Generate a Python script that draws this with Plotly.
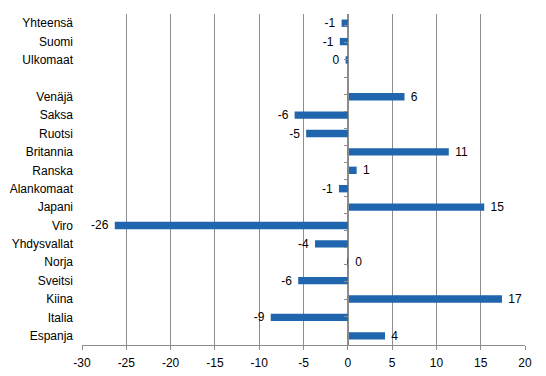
import plotly.graph_objects as go

categories = ["Yhteensä", "Suomi", "Ulkomaat", " ", "Venäjä", "Saksa", "Ruotsi",
              "Britannia", "Ranska", "Alankomaat", "Japani", "Viro", "Yhdysvallat",
              "Norja", "Sveitsi", "Kiina", "Italia", "Espanja"]
values = [-0.7, -0.9, -0.25, None, 6.4, -6.0, -4.7, 11.4, 1.0, -1.0, 15.4, -26.3,
          -3.7, 0.05, -5.6, 17.4, -8.7, 4.2]
x_ticks = [-30, -25, -20, -15, -10, -5, 0, 5, 10, 15, 20]

def label(v):
    if v is None:
        return ""
    r = int(round(v))
    return f"{r} " if v < 0 else f" {r}"

texts = [label(v) for v in values]

FONT = "Arial, Liberation Sans, sans-serif"
GRID = "#8c8c8c"

fig = go.Figure()
fig.add_trace(go.Bar(
    y=categories, x=values, orientation="h",
    marker=dict(color="#1f66ae", line=dict(width=0)),
    text=texts, textposition="outside", cliponaxis=False, constraintext="none",
    textfont=dict(family=FONT, size=12, color="#000000"),
    width=0.4, hoverinfo="skip", showlegend=False,
))
# invisible trace to drive the zero-position axis with boundary ticks
fig.add_trace(go.Scatter(
    y=categories, x=[None] * len(categories), yaxis="y2",
    mode="markers", showlegend=False, hoverinfo="skip",
))

fig.update_layout(
    width=546, height=376,
    margin=dict(l=82, r=21, t=14, b=31, autoexpand=False),
    paper_bgcolor="white", plot_bgcolor="white",
    font=dict(family=FONT, size=12, color="#000000"),
    xaxis=dict(
        range=[-30, 20], tickvals=x_ticks, ticktext=[str(t) for t in x_ticks],
        showgrid=True, gridcolor=GRID, gridwidth=1,
        zeroline=False, showline=True, linecolor=GRID, linewidth=1,
        ticks="outside", ticklen=4, tickcolor=GRID, automargin=False,
        ticklabelstandoff=3,
        tickfont=dict(family=FONT, size=12, color="#000000"),
        fixedrange=True,
    ),
    yaxis=dict(
        type="category", categoryorder="array", categoryarray=categories,
        autorange="reversed", showgrid=False, zeroline=False, showline=False,
        ticks="", ticklabelstandoff=8, automargin=False,
        tickfont=dict(family=FONT, size=12, color="#000000"),
        fixedrange=True,
    ),
    yaxis2=dict(
        type="category", categoryorder="array", categoryarray=categories,
        autorange="reversed", overlaying="y", anchor="free",
        position=30 / 50, side="left", automargin=False,
        showgrid=False, zeroline=False, showline=True, linecolor=GRID, linewidth=1,
        showticklabels=False, ticks="outside", ticklen=4, tickcolor=GRID,
        tickson="boundaries", fixedrange=True,
    ),
)

fig.write_html(
    "out.html",
    config={"displayModeBar": False},
    post_script="document.body.style.margin='0';document.body.style.overflow='hidden';",
)
